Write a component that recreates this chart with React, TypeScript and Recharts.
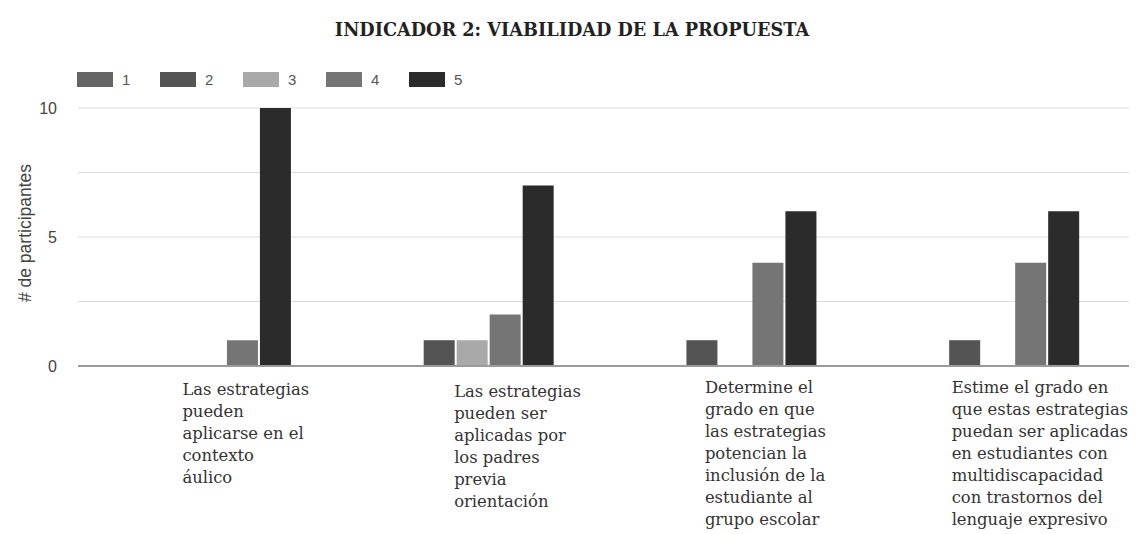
import { BarChart, Bar, XAxis, YAxis, CartesianGrid, Legend } from "recharts";

// ── Data ─────────────────────────────────────────────────────────────
const CATEGORIES = [
  "Las estrategias\npueden\naplicarse en el\ncontexto\náulico",
  "Las estrategias\npueden ser\naplicadas por\nlos padres\nprevia\norientación",
  "Determine el\ngrado en que\nlas estrategias\npotencian la\ninclusión de la\nestudiante al\ngrupo escolar",
  "Estime el grado en\nque estas estrategias\npuedan ser aplicadas\nen estudiantes con\nmultidiscapacidad\ncon trastornos del\nlenguaje expresivo",
];
const SERIES_NAMES = ["1", "2", "3", "4", "5"];
const SERIES_1 = [0, 0, 0, 0];
const SERIES_2 = [0, 1, 1, 1];
const SERIES_3 = [0, 1, 0, 0];
const SERIES_4 = [1, 2, 4, 4];
const SERIES_5 = [10, 7, 6, 6];
const Y_TICKS = [0, 2.5, 5, 7.5, 10];
const Y_LABELED = [0, 5, 10];

const TITLE = "INDICADOR 2: VIABILIDAD DE LA PROPUESTA";
const Y_LABEL = "# de participantes";

const COLORS = ["#656565", "#545454", "#a9a9a9", "#757575", "#2b2b2b"];
const ALL_SERIES = [SERIES_1, SERIES_2, SERIES_3, SERIES_4, SERIES_5];

const data = CATEGORIES.map((name, i) => {
  const row: Record<string, string | number> = { name };
  SERIES_NAMES.forEach((s, k) => {
    row[s] = ALL_SERIES[k][i];
  });
  return row;
});

const SANS = "'Liberation Sans', Arial, sans-serif";
const SERIF = "'DejaVu Serif', Georgia, serif";

// the category labels in the source sit left-aligned, each nudged a bit
const LABEL_SHIFT = [-27, -18, -30, -46];
const LABEL_DY = [0, 2, -2, -2];

function CategoryTick(props: any) {
  const { x, y, payload, index } = props;
  const lines = String(payload.value).split("\n");
  const left = x + (LABEL_SHIFT[index] ?? 0);
  return (
    <text x={left} y={y + (LABEL_DY[index] ?? 0)} fontFamily={SERIF} fontSize={16.4} fill="#333">
      {lines.map((l, i) => (
        <tspan key={i} x={left} dy={i === 0 ? 19 : 22}>
          {l}
        </tspan>
      ))}
    </text>
  );
}

function ValueTick(props: any) {
  const { x, y, payload } = props;
  if (!Y_LABELED.includes(payload.value)) return null;
  return (
    <text x={x} y={y} textAnchor="end" dominantBaseline="central" fontFamily={SANS} fontSize={16} fill="#444">
      {payload.value}
    </text>
  );
}

function LegendContent({ payload }: any) {
  return (
    <div style={{ display: "flex", alignItems: "center" }}>
      {(payload || []).map((p: any) => (
        <div key={p.value} style={{ display: "flex", alignItems: "center", width: 83 }}>
          <span style={{ width: 36, height: 15, background: p.color, display: "inline-block" }} />
          <span style={{ marginLeft: 9, fontFamily: SANS, fontSize: 15, color: "#555" }}>{p.value}</span>
        </div>
      ))}
    </div>
  );
}

function YLabel(props: any) {
  const { viewBox } = props;
  const cx = viewBox.x + 25;
  const cy = viewBox.y + viewBox.height / 2 - 4;
  return (
    <text
      x={cx}
      y={cy}
      transform={`rotate(-90, ${cx}, ${cy})`}
      textAnchor="middle"
      dominantBaseline="central"
      fontFamily={SANS}
      fontSize={17.5}
      fill="#444"
    >
      {Y_LABEL}
    </text>
  );
}

export default function App() {
  return (
    <div style={{ position: "absolute", left: 0, top: 0, width: 1144, height: 534, background: "#fff" }}>
      <div
        style={{
          position: "absolute",
          top: 19,
          left: 0,
          width: 1144,
          textAlign: "center",
          fontFamily: SERIF,
          fontWeight: 700,
          fontSize: 17.7,
          color: "#222",
        }}
      >
        {TITLE}
      </div>
      <BarChart
        width={1144}
        height={534}
        data={data}
        margin={{ top: 108, right: 15, left: 0, bottom: 0 }}
        barCategoryGap="19%"
        barGap={2}
      >
        <CartesianGrid horizontal vertical={false} stroke="#dcdcdc" />
        <XAxis
          dataKey="name"
          height={168}
          interval={0}
          tickSize={0}
          tickMargin={10}
          tickLine={false}
          axisLine={{ stroke: "#9a9a9a", strokeWidth: 2 }}
          tick={<CategoryTick />}
        />
        <YAxis
          width={78}
          domain={[0, 10]}
          ticks={Y_TICKS}
          interval={0}
          tickSize={0}
          tickMargin={21}
          axisLine={false}
          tickLine={false}
          tick={<ValueTick />}
          label={{ content: (p: any) => <YLabel {...p} /> }}
        />
        <Legend
          layout="horizontal"
          verticalAlign="middle"
          align="center"
          content={<LegendContent />}
          wrapperStyle={{ top: 71, left: 77, width: 500, height: 18 }}
        />
        {SERIES_NAMES.map((s, k) => (
          <Bar key={s} dataKey={s} name={s} fill={COLORS[k]} isAnimationActive={false} />
        ))}
      </BarChart>
    </div>
  );
}
